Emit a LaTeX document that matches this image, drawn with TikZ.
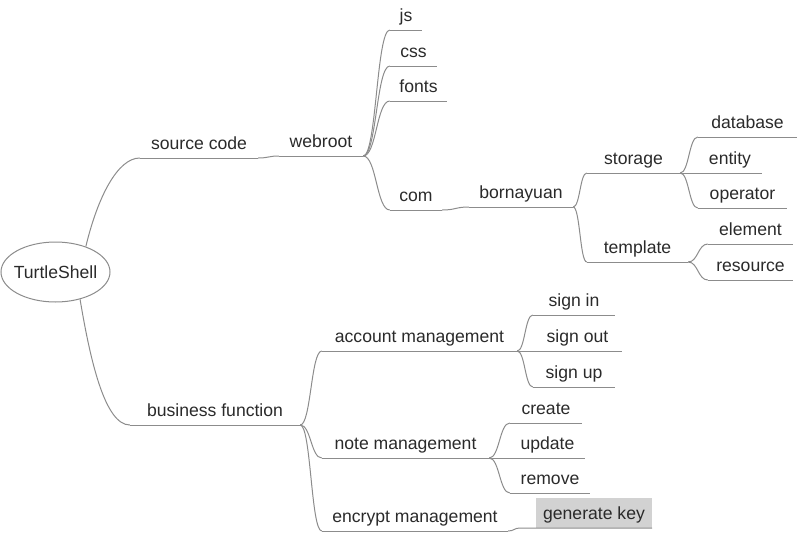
\documentclass[tikz,border=0pt]{standalone}
\usepackage{fontspec}
\setmainfont{Liberation Sans}
\usetikzlibrary{shapes.geometric, calc}

\definecolor{linegray}{HTML}{8C8C8C}
\definecolor{textgray}{HTML}{2A2A2A}

\tikzset{
    topic/.style={inner sep=0pt, anchor=south, text height=13pt, text depth=8.5pt, text=textgray},
    keybox/.style={topic, fill=gray!35, text height=21.5pt},
    rootnode/.style={ellipse, draw=linegray, line width=1pt, inner sep=0pt, minimum width=109pt, minimum height=60pt, text=textgray},
    link/.style={draw=linegray, line width=1pt},
    branch/.style={to path={let \p1=(\tikztostart), \p2=(\tikztotarget) in
        .. controls ({0.5*\x1+0.5*\x2},\y1) and ({0.5*\x1+0.5*\x2},\y2) .. (\tikztotarget)}}
}

\begin{document}
\begin{tikzpicture}[x=1pt, y=-1pt, font=\fontsize{17.6}{20}\selectfont]
    \useasboundingbox (0,0) rectangle (800,533);

    % Define the positions of the topics
    \coordinate (rootPos) at (55.5, 272);

    \coordinate (srcPos) at (199, 158);
    \coordinate (webPos) at (321, 156);
    \coordinate (jsPos) at (406, 30);
    \coordinate (cssPos) at (413.5, 66);
    \coordinate (fontsPos) at (418.5, 101);
    \coordinate (comPos) at (416, 210);
    \coordinate (bornPos) at (521, 207);
    \coordinate (storagePos) at (633.5, 173);
    \coordinate (templatePos) at (637.5, 262);
    \coordinate (databasePos) at (747.5, 137);
    \coordinate (entityPos) at (730, 173);
    \coordinate (operatorPos) at (742.5, 208);
    \coordinate (elementPos) at (750.5, 244);
    \coordinate (resourcePos) at (750.5, 280);

    \coordinate (bfPos) at (215, 425);
    \coordinate (accPos) at (419.5, 351);
    \coordinate (notePos) at (405.5, 458);
    \coordinate (encPos) at (415, 531);
    \coordinate (signinPos) at (574, 315);
    \coordinate (signoutPos) at (577.5, 351);
    \coordinate (signupPos) at (574, 387);
    \coordinate (createPos) at (546, 423);
    \coordinate (updatePos) at (547.5, 458);
    \coordinate (removePos) at (550, 493);
    \coordinate (genPos) at (594, 528);
    \coordinate (genStart) at (520, 528);

    % Draw the topics
    \node[rootnode] (root) at (rootPos) {\makebox[0pt]{TurtleShell}};

    \node[topic, minimum width=118pt] (src) at (srcPos) {source code};
    \node[topic, minimum width=84pt] (web) at (webPos) {webroot};
    \node[topic, minimum width=32pt] (js) at (jsPos) {js};
    \node[topic, minimum width=47pt] (css) at (cssPos) {css};
    \node[topic, minimum width=57pt] (fonts) at (fontsPos) {fonts};
    \node[topic, minimum width=52pt] (com) at (comPos) {com};
    \node[topic, minimum width=104pt] (born) at (bornPos) {bornayuan};
    \node[topic, minimum width=93pt] (storage) at (storagePos) {storage};
    \node[topic, minimum width=101pt] (template) at (templatePos) {template};
    \node[topic, minimum width=99pt] (database) at (databasePos) {database};
    \node[topic, minimum width=64pt] (entity) at (entityPos) {entity};
    \node[topic, minimum width=89pt] (operator) at (operatorPos) {operator};
    \node[topic, minimum width=85pt] (element) at (elementPos) {element};
    \node[topic, minimum width=85pt] (resource) at (resourcePos) {resource};

    \node[topic, minimum width=170pt] (bf) at (bfPos) {business function};
    \node[topic, minimum width=195pt] (acc) at (accPos) {account management};
    \node[topic, minimum width=167pt] (note) at (notePos) {note management};
    \node[topic, minimum width=186pt] (enc) at (encPos) {encrypt management};
    \node[topic, minimum width=82pt] (signin) at (signinPos) {sign in};
    \node[topic, minimum width=89pt] (signout) at (signoutPos) {sign out};
    \node[topic, minimum width=82pt] (signup) at (signupPos) {sign up};
    \node[topic, minimum width=72pt] (create) at (createPos) {create};
    \node[topic, minimum width=75pt] (update) at (updatePos) {update};
    \node[topic, minimum width=80pt] (remove) at (removePos) {remove};
    \node[keybox, minimum width=116pt] (gen) at (genPos) {generate key};

    % Draw the underlines
    \foreach \leaf in {src, web, js, css, fonts, com, born, storage, template, database, entity,
        operator, element, resource, bf, acc, note, enc, signin, signout, signup, create, update, remove}
        \draw[link] (\leaf.south west) -- (\leaf.south east);

    % Draw the branches
    \draw[link] (root.40) .. controls +(12,-50) and +(-22,0) .. (src.south west);
    \draw[link] (root.-48) .. controls +(10,60) and +(-25,0) .. (bf.south west);

    \draw[link] (src.south east) to[branch] (web.south west);
    \foreach \leaf in {js, css, fonts, com}
        \draw[link] (web.south east) to[branch] (\leaf.south west);
    \draw[link] (com.south east) to[branch] (born.south west);
    \foreach \leaf in {storage, template}
        \draw[link] (born.south east) to[branch] (\leaf.south west);
    \foreach \leaf in {database, entity, operator}
        \draw[link] (storage.south east) to[branch] (\leaf.south west);
    \foreach \leaf in {element, resource}
        \draw[link] (template.south east) to[branch] (\leaf.south west);

    \foreach \leaf in {acc, note, enc}
        \draw[link] (bf.south east) to[branch] (\leaf.south west);
    \foreach \leaf in {signin, signout, signup}
        \draw[link] (acc.south east) to[branch] (\leaf.south west);
    \foreach \leaf in {create, update, remove}
        \draw[link] (note.south east) to[branch] (\leaf.south west);
    \draw[link] (enc.south east) to[branch] (genStart) -- (gen.south east);

\end{tikzpicture}
\end{document}
